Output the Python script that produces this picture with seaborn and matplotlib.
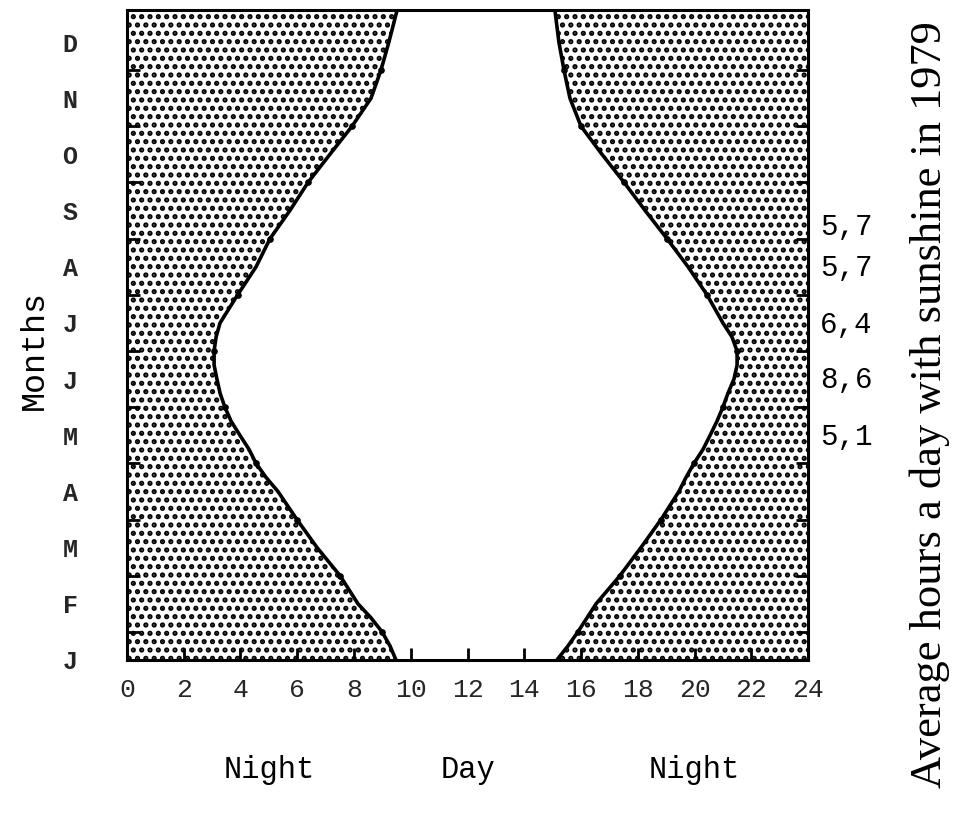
import numpy as np
import pandas as pd
import matplotlib
matplotlib.use("Agg")
import matplotlib.pyplot as plt
import matplotlib.transforms as mtransforms
import seaborn as sns

# ---- data ----
months = ["J", "F", "M", "A", "M", "J", "J", "A", "S", "O", "N", "D"]
month_pos = [0, 0.25, 0.5, 0.75, 1.0, 1.5, 2.0, 2.5, 3.0, 3.25, 3.5, 3.75, 4.0,
             4.25, 4.5, 4.75, 5.0, 5.25, 5.5, 5.75, 6.0, 6.5, 7.0, 7.5, 8.0,
             8.5, 9.0, 9.5, 10.0, 10.5, 11.0, 11.57]
sunrise = [9.48, 9.27, 8.99, 8.60, 8.14, 7.51, 6.70, 5.99, 5.32, 4.90, 4.55,
           4.30, 3.98, 3.67, 3.45, 3.28, 3.17, 3.07, 3.07, 3.14, 3.28, 3.90,
           4.55, 5.04, 5.74, 6.38, 7.15, 7.93, 8.60, 8.95, 9.23, 9.52]
sunset = [15.15, 15.54, 15.89, 16.21, 16.53, 17.37, 18.11, 18.82, 19.45,
          19.70, 19.98, 20.30, 20.55, 20.79, 21.00, 21.18, 21.39, 21.50,
          21.50, 21.32, 21.00, 20.44, 19.77, 19.03, 18.26, 17.52, 16.74,
          16.00, 15.61, 15.40, 15.22, 15.08]
hour_ticks = [0, 2, 4, 6, 8, 10, 12, 14, 16, 18, 20, 22, 24]
half_month_ticks = [0.5, 1.5, 2.5, 3.5, 4.5, 5.5, 6.5, 7.5, 8.5, 9.5, 10.5]
sun_pos = [7.7, 6.97, 5.96, 4.98, 3.97]
sun_labels = ["5,7", "5,7", "6,4", "8,6", "5,1"]
period_labels = ["Night", "Day", "Night"]
period_pos = [5, 12, 20]

sns.set_theme(style="white")
plt.rcParams["font.family"] = ["Liberation Mono", "DejaVu Sans"]
plt.rcParams["hatch.linewidth"] = 2.5
plt.rcParams["hatch.color"] = "black"

df = pd.DataFrame({"month": month_pos, "sunrise": sunrise, "sunset": sunset})

fig = plt.figure(figsize=(9.76, 8.13), dpi=100)
ax = fig.add_axes([0.1301, 0.1882, 0.6978, 0.7995])
ax.set_axisbelow(False)

ax.fill_betweenx(df["month"], 0, df["sunrise"], facecolor="white",
                 hatch="..", edgecolor="black", linewidth=0, zorder=1)
ax.fill_betweenx(df["month"], df["sunset"], 24, facecolor="white",
                 hatch="..", edgecolor="black", linewidth=0, zorder=1)

idx = [month_pos.index(v) for v in half_month_ticks]
for col in ["sunrise", "sunset"]:
    sns.lineplot(data=df, x=col, y="month", orient="y", sort=False,
                 estimator=None, color="black", linewidth=2.6, ax=ax,
                 marker="o", markersize=4, markevery=idx,
                 markeredgecolor="black", markerfacecolor="black", zorder=3)

ax.set_xlim(0, 24)
ax.set_ylim(0, 11.57)
ax.set_xlabel("")
ax.set_ylabel("")

for s in ax.spines.values():
    s.set_visible(True)
    s.set_color("black")
    s.set_linewidth(2.2)
    s.set_zorder(4)

ax.set_xticks(hour_ticks)
ax.set_xticklabels([str(h) for h in hour_ticks], fontsize=19)
ax.tick_params(axis="x", which="major", direction="in", length=9, width=2,
               color="black", pad=13, bottom=True, top=False)

ax.set_yticks(range(12))
ax.set_yticklabels(months, fontsize=18, fontweight="bold")
ax.set_yticks(half_month_ticks, minor=True)
ax.tick_params(axis="y", which="major", length=0, pad=41)
ax.tick_params(axis="y", which="minor", direction="in", length=9, width=2,
               color="black", left=True, right=True)
for lab in ax.get_yticklabels():
    lab.set_horizontalalignment("center")

for p, t in zip(sun_pos, sun_labels):
    ax.text(1.018, p, t, transform=ax.get_yaxis_transform(), fontsize=21,
            ha="left", va="center", color="black")

bt = mtransforms.blended_transform_factory(ax.transData, fig.transFigure)
for p, t in zip(period_pos, period_labels):
    ax.text(p, 0.053, t, transform=bt, fontsize=22, ha="center",
            va="center", color="black")

fig.text(0.035, 0.569, "Months", rotation=90, fontsize=24, ha="center",
         va="center", color="black")
fig.text(0.953, 0.502, "Average hours a day with sunshine in 1979",
         rotation=90, fontsize=32, ha="center", va="center", color="black",
         family=["Liberation Serif", "DejaVu Serif"])

fig.savefig("out.png", dpi=100, facecolor="white")
